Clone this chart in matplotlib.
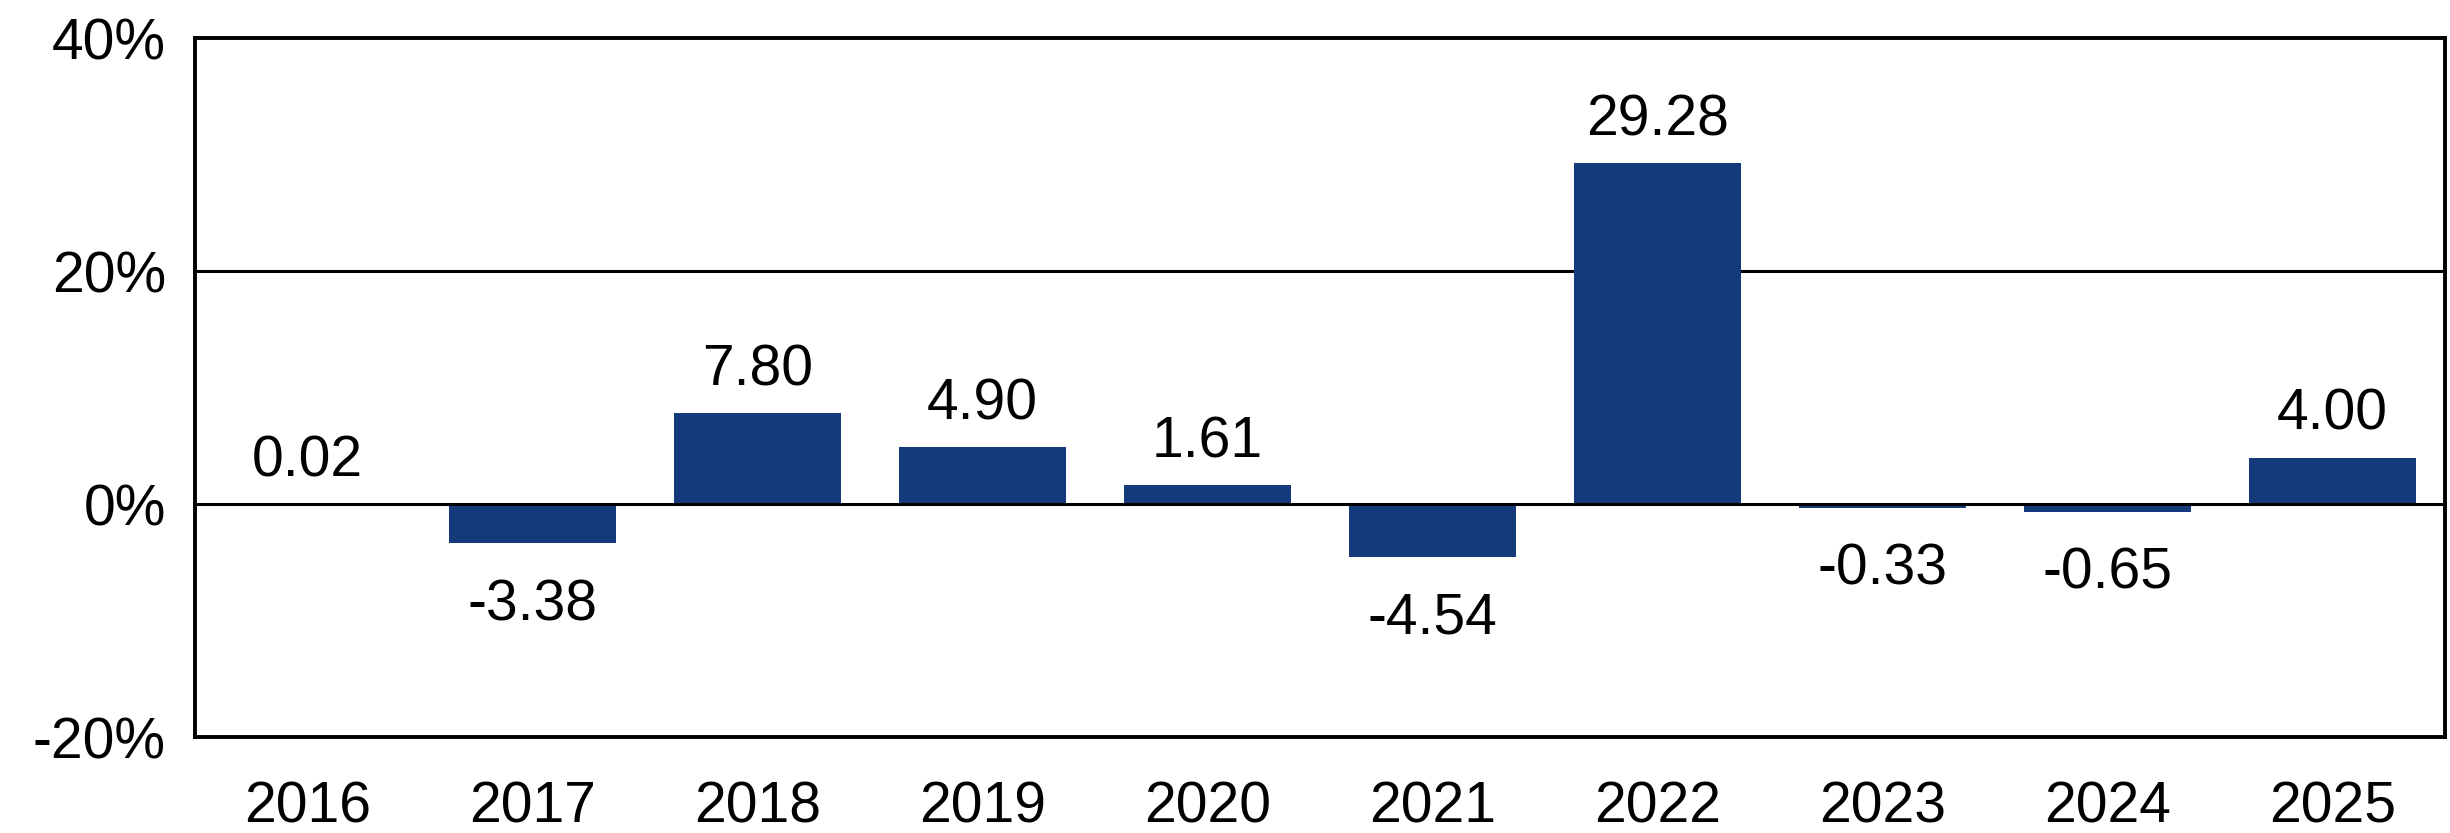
import matplotlib.pyplot as plt
import matplotlib as mpl
from matplotlib.ticker import FuncFormatter

plt.rcParams['font.family'] = ['Liberation Sans', 'DejaVu Sans']

years = ['2016', '2017', '2018', '2019', '2020', '2021', '2022', '2023', '2024', '2025']
returns = [0.02, -3.38, 7.80, 4.90, 1.61, -4.54, 29.28, -0.33, -0.65, 4.00]
yticks = [-20, 0, 20, 40]

bar_color = '#153a7c'

fig = plt.figure(figsize = (12.25, 4.165), dpi = 200)
ax = fig.add_axes([0.0796, 0.1152, 0.9184, 0.8388])

x = range(len(years))
ax.bar(x, returns, width = 0.74, color = bar_color, zorder = 2)

# grid lines behind bars, zero line on top
for t in yticks[1:-1]:
    ax.axhline(t, color = 'black', lw = 1.1, zorder = 1 if t != 0 else 3)

for i, v in enumerate(returns):
    if v >= 0:
        ax.annotate('%.2f' % v, (i, v), xytext = (0, 10), textcoords = 'offset points',
                    ha = 'center', va = 'baseline', fontsize = 20.5)
    else:
        ax.annotate('%.2f' % v, (i, v), xytext = (0, -12.5), textcoords = 'offset points',
                    ha = 'center', va = 'top', fontsize = 20.5)

ax.set_xlim(-0.5, len(years) - 0.5)
ax.set_ylim(-20, 40)
ax.set_yticks(yticks)
ax.yaxis.set_major_formatter(FuncFormatter(lambda v, p: '%d%%' % v))
ax.set_xticks(list(x))
ax.set_xticklabels(years)

ax.tick_params(axis = 'both', length = 0, labelsize = 20.5)
ax.tick_params(axis = 'y', pad = 10.5)
ax.tick_params(axis = 'x', pad = 15.5)

for s in ax.spines.values():
    s.set_linewidth(1.4)
    s.set_color('black')

plt.savefig('out.png', dpi = 200)
plt.close('all')
